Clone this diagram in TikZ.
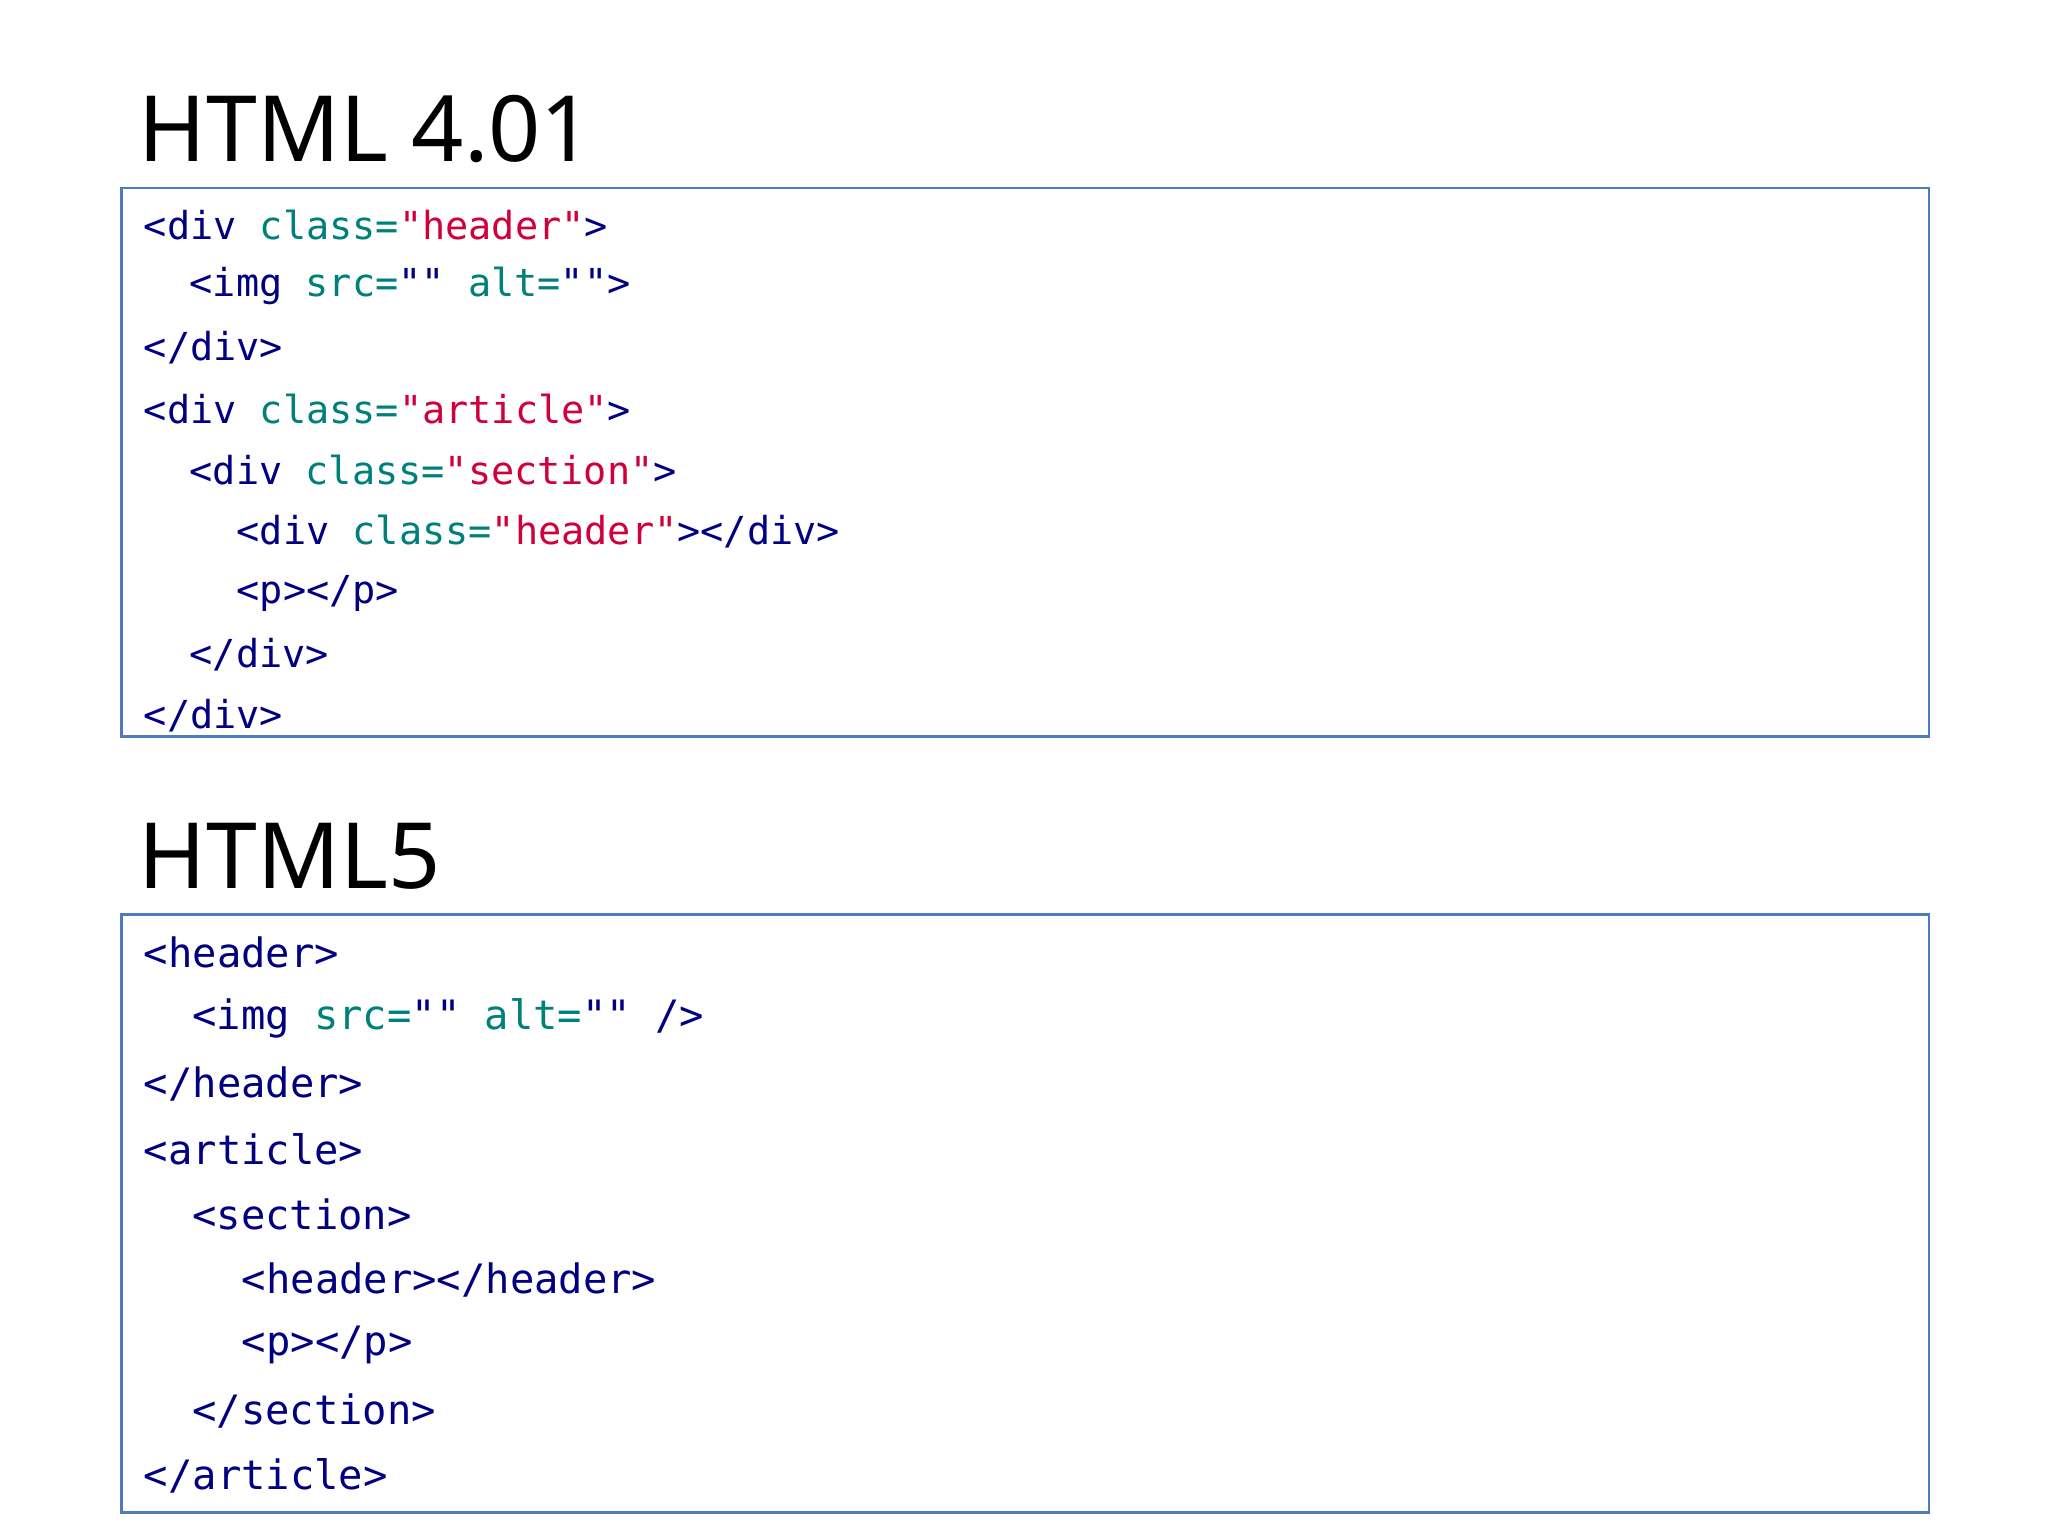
\documentclass[tikz,border=0pt]{standalone}
\usepackage{fontspec}
\setmainfont{Noto Sans}
\setmonofont{DejaVu Sans Mono}
\definecolor{tg}{HTML}{000080}
\definecolor{at}{HTML}{00807A}
\definecolor{vl}{HTML}{D0003C}
\definecolor{bx}{HTML}{4F7BBE}
\newcommand{\T}[1]{\textcolor{tg}{#1}}
\newcommand{\A}[1]{\textcolor{at}{#1}}
\newcommand{\V}[1]{\textcolor{vl}{#1}}
\begin{document}
\begin{tikzpicture}[x=1pt,y=-1pt,
  codeA/.style={anchor=west,inner sep=0pt,font=\ttfamily\fontsize{29.5}{30}\selectfont,text=tg},
  codeB/.style={anchor=west,inner sep=0pt,font=\ttfamily\fontsize{31}{32}\selectfont,text=tg},
  ttl/.style={anchor=base west,inner sep=0pt,font=\fontsize{70}{72}\selectfont},
  box/.style={draw=bx,line width=2pt}]
\useasboundingbox (0,0) rectangle (1568,1176);
\node[ttl] (t1) at (106,124) {HTML 4.01};
\node[box,minimum width=1384,minimum height=420,anchor=north west,inner sep=0pt] (b1) at (92,143) {};
\node[codeA] (a1) at (110,172) {<div \A{class=}\V{"header"}>};
\node[codeA] (a2) at (145,219) {<img \A{src=}"" \A{alt=}"">};
\node[codeA] (a3) at (110,266) {</div>};
\node[codeA] (a4) at (110,313) {<div \A{class=}\V{"article"}>};
\node[codeA] (a5) at (145,360) {<div \A{class=}\V{"section"}>};
\node[codeA] (a6) at (181,407) {<div \A{class=}\V{"header"}></div>};
\node[codeA] (a7) at (181,454) {<p></p>};
\node[codeA] (a8) at (145,501) {</div>};
\node[codeA] (a9) at (110,548) {</div>};
\node[ttl] (t2) at (106,680) {HTML5};
\node[box,minimum width=1384,minimum height=458,anchor=north west,inner sep=0pt] (b2) at (92,699) {};
\node[codeB] (c1) at (110,729) {<header>};
\node[codeB] (c2) at (147,780) {<img \A{src=}"" \A{alt=}"" />};
\node[codeB] (c3) at (110,830) {</header>};
\node[codeB] (c4) at (110,880) {<article>};
\node[codeB] (c5) at (147,930) {<section>};
\node[codeB] (c6) at (185,980) {<header></header>};
\node[codeB] (c7) at (185,1030) {<p></p>};
\node[codeB] (c8) at (147,1080) {</section>};
\node[codeB] (c9) at (110,1130) {</article>};
\end{tikzpicture}
\end{document}
